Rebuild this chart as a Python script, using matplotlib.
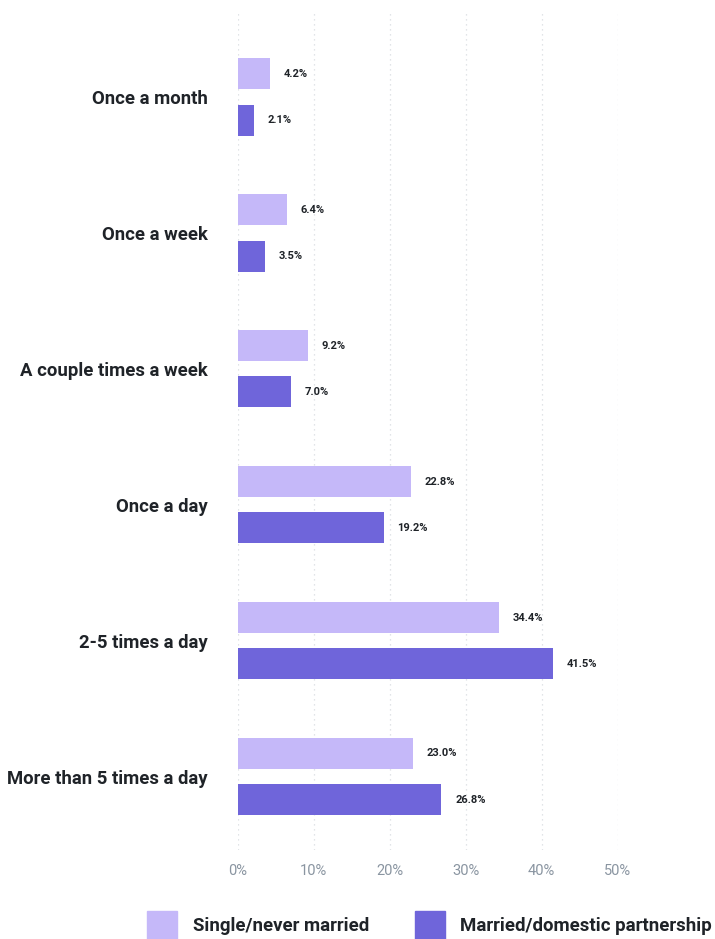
import numpy as np
import matplotlib.pyplot as plt
from matplotlib.patches import Rectangle

plt.rcParams['font.family'] = ['Roboto', 'DejaVu Sans']

categories = ['Once a month', 'Once a week', 'A couple times a week',
              'Once a day', '2-5 times a day', 'More than 5 times a day']
single = [4.2, 6.4, 9.2, 22.8, 34.4, 23.0]
married = [2.1, 3.5, 7.0, 19.2, 41.5, 26.8]
series_names = ['Single/never married', 'Married/domestic partnership']
xticks = [0, 10, 20, 30, 40, 50]

c_single = '#C5B8F9'
c_married = '#6F65DA'
txt = '#1f2328'

fig = plt.figure(figsize=(7.15, 9.39), dpi=100)
# axes: x 238..617 px, y 10..850 px
ax = fig.add_axes([238 / 715, 1 - 850 / 939, (617.5 - 238) / 715, 840 / 939])

y = np.arange(len(categories))
h = 0.228
off = 0.17
ax.barh(y - off, single, height=h, color=c_single)
ax.barh(y + off, married, height=h, color=c_married)

for yi, v in zip(y - off, single):
    ax.annotate(f'{v:.1f}%', (v, yi), xytext=(10, 0), textcoords='offset points',
                va='center', ha='left', fontsize=8, fontweight='bold', color=txt, clip_on=False)
for yi, v in zip(y + off, married):
    ax.annotate(f'{v:.1f}%', (v, yi), xytext=(10, 0), textcoords='offset points',
                va='center', ha='left', fontsize=8, fontweight='bold', color=txt, clip_on=False)

ax.set_xlim(0, 50)
ax.set_ylim(len(categories) - 1 + 0.54, -0.64)
ax.set_yticks(y)
ax.set_yticklabels(categories, fontsize=13.3, fontweight='bold', color=txt)
ax.tick_params(axis='y', length=0, pad=22)
ax.set_xticks(xticks)
ax.set_xticklabels([f'{t}%' for t in xticks], fontsize=10.5, color='#8a95a1')
ax.tick_params(axis='x', length=0, pad=10)

ax.set_axisbelow(True)
ax.grid(axis='x', color='#d8dce0', linestyle=(0, (1, 3)), linewidth=0.9)
for s in ax.spines.values():
    s.set_visible(False)

# legend
leg_y = 926
for x0, x1, col, name in [(147, 193, c_single, series_names[0]),
                          (415, 460, c_married, series_names[1])]:
    fig.patches.append(Rectangle((x0 / 715, 1 - 939 / 939), 30 / 715, 28 / 939,
                                 transform=fig.transFigure, color=col))
    fig.text(x1 / 715, 1 - leg_y / 939, name, fontsize=13.4, fontweight='bold',
             color=txt, va='center', ha='left')

fig.savefig('out.png', dpi=100)
